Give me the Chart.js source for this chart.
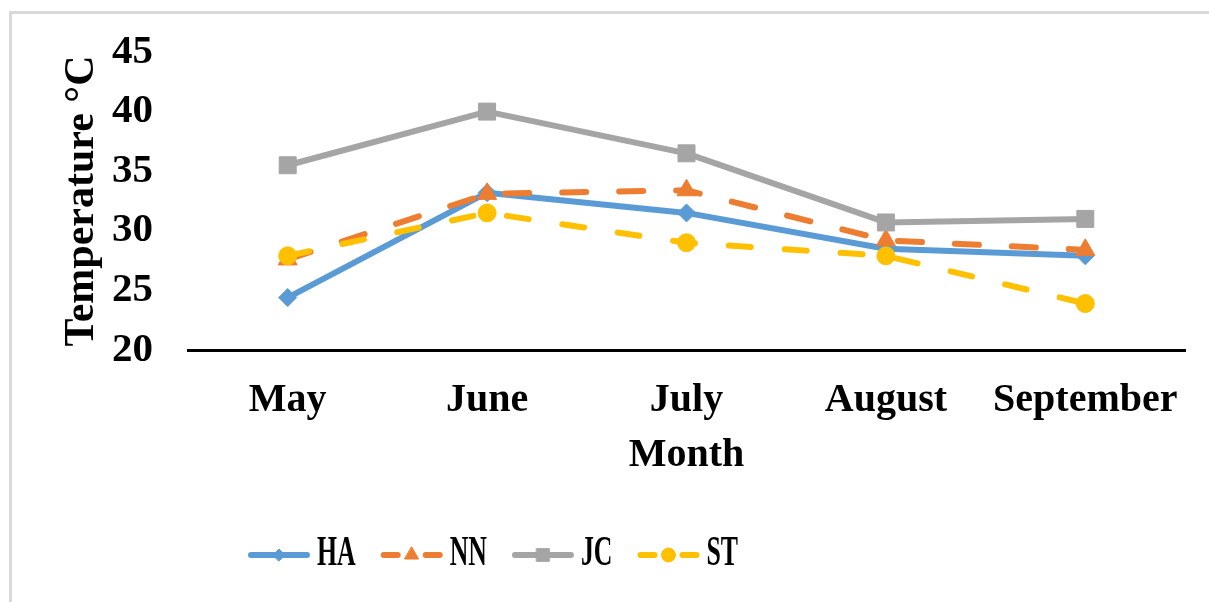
<!DOCTYPE html>
<html>
<head>
<meta charset="utf-8">
<script src="https://cdn.jsdelivr.net/npm/chart.js@4.4.1/dist/chart.umd.min.js"></script>
<style>
html, body { margin: 0; padding: 0; background: #fff; overflow: hidden; }
#marco { position: absolute; left: 9px; top: 11px; width: 1300px; height: 700px; border: 3px solid #d9d9d9; box-sizing: border-box; }
#grafico { position: absolute; left: 0; top: 0; }
</style>
</head>
<body>
<div id="marco"></div>
<canvas id="grafico" width="1209" height="602"></canvas>
<script>
var meses = ['May', 'June', 'July', 'August', 'September'];
var series = ['HA', 'NN', 'JC', 'ST'];
var ha = [24.4, 33.2, 31.5, 28.5, 27.9];
var nn = [27.6, 33.1, 33.4, 29.2, 28.4];
var jc = [35.5, 40.0, 36.5, 30.7, 31.0];
var st = [27.9, 31.5, 29.0, 27.9, 23.9];
var yMin = 20, yMax = 45, yPaso = 5;
var tituloX = 'Month';
var tituloY = 'Temperature \u00B0C';

var fuente = "'Liberation Serif', 'Times New Roman', serif";
Chart.defaults.font.family = fuente;
Chart.defaults.font.weight = 'bold';
Chart.defaults.color = '#000';

// leyenda dibujada a mano: linea + marcador + texto estrecho
var leyenda = {
	id: 'leyenda',
	afterDraw: function (chart) {
		var ctx = chart.ctx;
		var radios = [6, 8, 9, 7];
		var x = 248, y = 555, largo = 62;
		ctx.save();
		chart.data.datasets.forEach(function (ds, i) {
			ctx.strokeStyle = ds.borderColor;
			ctx.fillStyle = ds.borderColor;
			ctx.lineWidth = 6;
			ctx.lineCap = 'round';
			ctx.setLineDash([]);
			ctx.beginPath();
			if (ds.borderDash) {
				ctx.moveTo(x + 3, y); ctx.lineTo(x + 17, y);
				ctx.moveTo(x + largo - 17, y); ctx.lineTo(x + largo - 3, y);
			} else {
				ctx.moveTo(x + 3, y); ctx.lineTo(x + largo - 3, y);
			}
			ctx.stroke();
			ctx.lineWidth = 1;
			Chart.helpers.drawPoint(ctx, { pointStyle: ds.pointStyle, radius: radios[i], borderWidth: 1, rotation: 0 }, x + largo / 2, y);
			var tx = x + largo + 7;
			ctx.font = 'bold 43px ' + fuente;
			ctx.fillStyle = '#000';
			ctx.textBaseline = 'middle';
			ctx.textAlign = 'left';
			var ancho = ctx.measureText(ds.label).width * 0.6;
			ctx.save();
			ctx.translate(tx, y - 1);
			ctx.scale(0.6, 1);
			ctx.fillText(ds.label, 0, 0);
			ctx.restore();
			x = tx + ancho + 25;
		});
		ctx.restore();
	}
};

var grafico = new Chart(document.getElementById('grafico'), {
	type: 'line',
	data: {
		labels: meses,
		datasets: [
			{ label: series[0], data: ha, borderColor: '#5B9BD5', backgroundColor: '#5B9BD5', borderWidth: 6, pointStyle: 'rectRot', pointRadius: 9, pointBorderWidth: 1, borderJoinStyle: 'round', order: 4 },
			{ label: series[1], data: nn, borderColor: '#ED7D31', backgroundColor: '#ED7D31', borderWidth: 6, borderDash: [24, 33], borderCapStyle: 'round', pointStyle: 'triangle', pointRadius: 11, pointBorderWidth: 1, order: 3 },
			{ label: series[2], data: jc, borderColor: '#A5A5A5', backgroundColor: '#A5A5A5', borderWidth: 6, pointStyle: 'rect', pointRadius: 12, pointBorderWidth: 1, borderJoinStyle: 'round', order: 2 },
			{ label: series[3], data: st, borderColor: '#FFC000', backgroundColor: '#FFC000', borderWidth: 6, borderDash: [22, 34], borderCapStyle: 'round', pointStyle: 'circle', pointRadius: 9, pointBorderWidth: 1, order: 1 }
		]
	},
	options: {
		responsive: false,
		animation: false,
		layout: { padding: { left: 50, top: 52, right: 24, bottom: 122 } },
		plugins: {
			legend: { display: false },
			tooltip: { enabled: false }
		},
		scales: {
			x: {
				offset: true,
				grid: { display: false },
				border: { display: true, color: '#000', width: 3 },
				ticks: { font: { size: 40 }, padding: 19, maxRotation: 0, autoSkip: false },
				title: { display: true, text: tituloX, font: { size: 40 }, padding: { top: 0, bottom: 0 } },
				afterFit: function (s) { s.height = 130; }
			},
			y: {
				min: yMin,
				max: yMax,
				grid: { display: false },
				border: { display: false },
				ticks: { stepSize: yPaso, font: { size: 41 }, padding: 27 },
				title: { display: true, text: tituloY, font: { size: 42 }, padding: { top: 7, bottom: 0 } },
				afterFit: function (s) { s.width = 138; }
			}
		}
	},
	plugins: [leyenda]
});
</script>
</body>
</html>
